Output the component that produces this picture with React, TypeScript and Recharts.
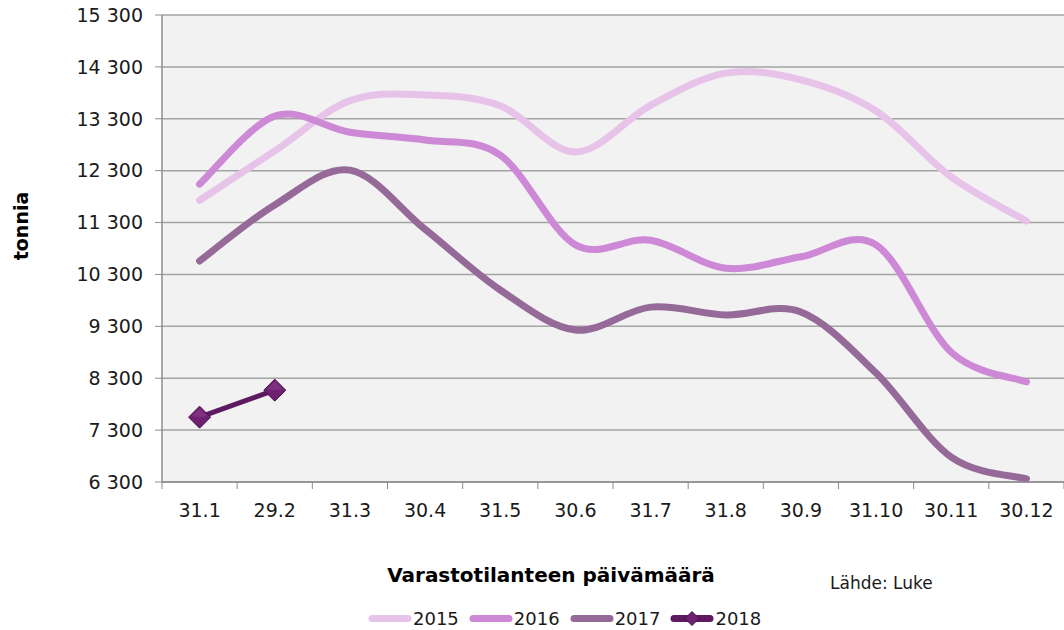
import React from 'react';
import { ComposedChart, Line, XAxis, YAxis, CartesianGrid } from 'recharts';

const categories = ['31.1', '29.2', '31.3', '30.4', '31.5', '30.6', '31.7', '31.8', '30.9', '31.10', '30.11', '30.12'];
const s2015 = [11730, 12680, 13650, 13760, 13550, 12660, 13560, 14180, 14050, 13450, 12180, 11330];
const s2016 = [12040, 13350, 13040, 12890, 12600, 10870, 10960, 10420, 10640, 10870, 8800, 8230];
const s2017 = [10560, 11640, 12310, 11170, 10000, 9230, 9670, 9520, 9575, 8400, 6780, 6360];
const s2018: (number | null)[] = [7550, 8070, null, null, null, null, null, null, null, null, null, null];
const yTicks = [6300, 7300, 8300, 9300, 10300, 11300, 12300, 13300, 14300, 15300];

const seriesMeta = [
  { key: 'y2015', name: '2015', color: '#e7c3e9', width: 7, values: s2015 },
  { key: 'y2016', name: '2016', color: '#cd88d6', width: 7, values: s2016 },
  { key: 'y2017', name: '2017', color: '#956a99', width: 7, values: s2017 },
  { key: 'y2018', name: '2018', color: '#5e1a60', width: 5, values: s2018 },
];

const data = categories.map((c, i) => {
  const row: any = { label: c };
  seriesMeta.forEach((s) => (row[s.key] = s.values[i]));
  return row;
});

const FONT = '"DejaVu Sans", Verdana, sans-serif';

// Excel-like smoothed curve (Catmull-Rom through points)
function excelCurve(context: any) {
  let pts: number[][] = [];
  return {
    areaStart() {},
    areaEnd() {},
    lineStart() {
      pts = [];
    },
    point(x: number, y: number) {
      pts.push([+x, +y]);
    },
    lineEnd() {
      const n = pts.length;
      if (!n) return;
      context.moveTo(pts[0][0], pts[0][1]);
      for (let i = 0; i < n - 1; i++) {
        const p0 = pts[Math.max(i - 1, 0)];
        const p1 = pts[i];
        const p2 = pts[i + 1];
        const p3 = pts[Math.min(i + 2, n - 1)];
        const c1x = p1[0] + (p2[0] - p0[0]) / 6;
        const c1y = p1[1] + (p2[1] - p0[1]) / 6;
        const c2x = p2[0] - (p3[0] - p1[0]) / 6;
        const c2y = p2[1] - (p3[1] - p1[1]) / 6;
        context.bezierCurveTo(c1x, c1y, c2x, c2y, p2[0], p2[1]);
      }
    },
  };
}

const Diamond = (props: any) => {
  const { cx, cy, value } = props;
  if (value == null || cx == null || cy == null) return null;
  const r = 11;
  return (
    <g>
      <polygon
        points={`${cx},${cy - r} ${cx + r},${cy} ${cx},${cy + r} ${cx - r},${cy}`}
        fill="#6e2170"
        stroke="#4a0f4c"
        strokeWidth={1}
      />
      <polygon
        points={`${cx},${cy - r + 2} ${cx + r - 3},${cy - 1} ${cx},${cy} ${cx - r + 3},${cy - 1}`}
        fill="#8a3a8c"
        opacity={0.6}
      />
    </g>
  );
};

const XTick = (props: any) => {
  const { x, y, payload, index } = props;
  const half = payload && payload.offset ? payload.offset : 37.6;
  return (
    <g>
      <line x1={x - half} x2={x - half} y1={y} y2={y + 7} stroke="#8c8c8c" strokeWidth={1} />
      {index === categories.length - 1 && (
        <line x1={x + half} x2={x + half} y1={y} y2={y + 7} stroke="#8c8c8c" strokeWidth={1} />
      )}
      <text x={x} y={y + 35} textAnchor="middle" fontFamily={FONT} fontSize={19} fill="#1a1a1a">
        {payload.value}
      </text>
    </g>
  );
};

export default function App() {
  return (
    <div style={{ position: 'absolute', left: 0, top: 0, width: 1064, height: 630, background: '#ffffff', fontFamily: FONT }}>
      <ComposedChart width={1064} height={630} data={data} margin={{ top: 15, right: 0, left: 0, bottom: 108 }}>
        <CartesianGrid vertical={false} stroke="#a3a3a3" strokeWidth={1.5} fill="#f2f2f2" />
        <XAxis
          dataKey="label"
          scale="band"
          tickLine={false}
          tickSize={0}
          tickMargin={0}
          axisLine={{ stroke: '#8c8c8c', strokeWidth: 1.5 }}
          height={40}
          interval={0}
          tick={<XTick />}
        />
        <YAxis
          domain={[6300, 15300]}
          ticks={yTicks}
          width={162}
          interval={0}
          tickSize={7}
          tickMargin={12}
          tickLine={{ stroke: '#8c8c8c' }}
          axisLine={{ stroke: '#8c8c8c', strokeWidth: 1.5 }}
          tickFormatter={(v: number) => v.toLocaleString('en-US').replace(',', ' ')}
          tick={{ fontFamily: FONT, fontSize: 19, fill: '#1a1a1a' }}
        />
        {seriesMeta.slice(0, 3).map((s) => (
          <Line
            key={s.key}
            dataKey={s.key}
            name={s.name}
            type={excelCurve as any}
            stroke={s.color}
            strokeWidth={s.width}
            strokeLinecap="round"
            dot={false}
            activeDot={false}
            isAnimationActive={false}
          />
        ))}
        <Line
          dataKey="y2018"
          name="2018"
          type="linear"
          stroke="#5e1a60"
          strokeWidth={5}
          dot={<Diamond />}
          activeDot={false}
          connectNulls={false}
          isAnimationActive={false}
        />
      </ComposedChart>

      <div
        style={{
          position: 'absolute',
          left: 21,
          top: 226,
          transform: 'translate(-50%, -50%) rotate(-90deg)',
          fontWeight: 'bold',
          fontSize: 19,
          color: '#000',
          whiteSpace: 'nowrap',
        }}
      >
        tonnia
      </div>
      <div
        style={{
          position: 'absolute',
          left: 551,
          top: 575,
          transform: 'translate(-50%, -50%)',
          fontWeight: 'bold',
          fontSize: 20,
          color: '#000',
          whiteSpace: 'nowrap',
        }}
      >
        Varastotilanteen päivämäärä
      </div>
      <div
        style={{
          position: 'absolute',
          left: 830,
          top: 583,
          transform: 'translate(0, -50%)',
          fontSize: 17,
          color: '#1a1a1a',
          whiteSpace: 'nowrap',
        }}
      >
        Lähde: Luke
      </div>
      <div
        style={{
          position: 'absolute',
          left: 367,
          top: 618,
          transform: 'translate(0, -50%)',
          display: 'flex',
          alignItems: 'center',
          fontSize: 18,
          color: '#1a1a1a',
          whiteSpace: 'nowrap',
        }}
      >
        {seriesMeta.map((s) => (
          <div key={s.key} style={{ display: 'flex', alignItems: 'center', marginRight: 9 }}>
            <svg width={46} height={18} style={{ display: 'block' }}>
              <line x1={5} x2={41} y1={9} y2={9} stroke={s.color} strokeWidth={7} strokeLinecap="round" />
              {s.key === 'y2018' && (
                <polygon points="23,2 30,9 23,16 16,9" fill="#6e2170" stroke="#4a0f4c" strokeWidth={1} />
              )}
            </svg>
            <span style={{ marginLeft: 0 }}>{s.name}</span>
          </div>
        ))}
      </div>
    </div>
  );
}
